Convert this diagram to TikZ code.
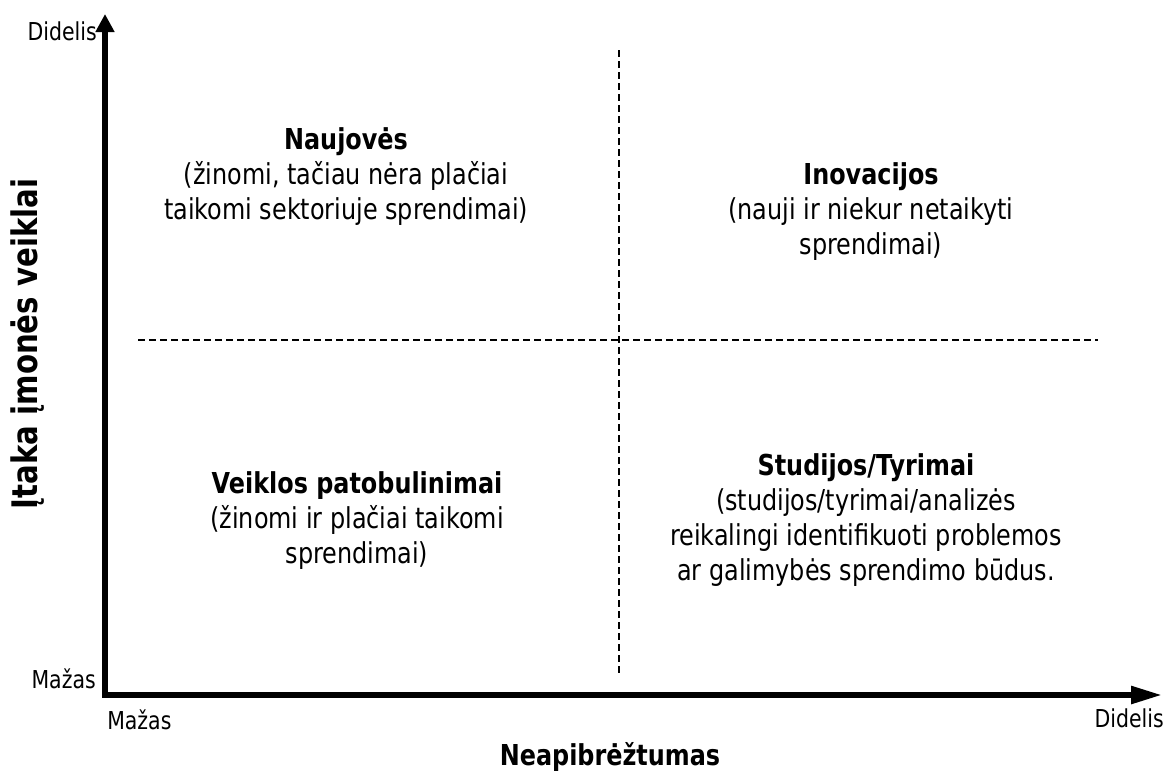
\documentclass[tikz,border=0pt]{standalone}
\usepackage{fontspec}
\setmainfont{DejaVu Sans}[FakeStretch=0.83]
\usetikzlibrary{arrows.meta}
\begin{document}
\begin{tikzpicture}[x=0.75pt,y=-0.75pt,
  axis/.style={line width=4.2pt,line join=miter},
  guide/.style={line width=1.7pt,dash pattern=on 5.25pt off 3pt},
  quad/.style={align=center,inner sep=0pt,font=\fontsize{21.6pt}{26.25pt}\selectfont},
  tick/.style={inner sep=0pt,font=\fontsize{18.5pt}{21pt}\selectfont},
  title/.style={inner sep=0pt,font=\fontsize{21.6pt}{25pt}\selectfont\bfseries}]
\useasboundingbox (0,0) rectangle (1167,771);
% axes
\coordinate (ytip) at (105,14);
\coordinate (origin) at (105,695);
\coordinate (xtip) at (1162,695);
\draw[axis,{Triangle[length=13.5pt,width=13.5pt]}-{Triangle[length=23.25pt,width=12.75pt]}]
  (ytip) -- (origin) -- (xtip);
% dashed guides
\coordinate (vtop) at (619,50);
\coordinate (vbot) at (619,676);
\coordinate (hleft) at (138,340);
\coordinate (hright) at (1098,340);
\draw[guide] (vtop) -- (vbot);
\draw[guide] (hleft) -- (hright);
% axis tick labels
\node[tick,anchor=east] (ydid) at (97,31) {Didelis};
\node[tick,anchor=east] (ymaz) at (96,679) {Mažas};
\node[tick,anchor=west] (xmaz) at (107,720) {Mažas};
\node[tick,anchor=east] (xdid) at (1164,718) {Didelis};
% axis titles
\node[title] (xtitle) at (610,757) {Neapibrėžtumas};
\node[title,rotate=90,font=\fontsize{26.4pt}{30pt}\selectfont\bfseries] (ytitle) at (28,344) {Įtaka įmonės veiklai};
% quadrants
\node[quad] (naujoves) at (346,177) {\textbf{Naujovės}\\(žinomi, tačiau nėra plačiai\\taikomi sektoriuje sprendimai)};
\node[quad] (inovacijos) at (871,212) {\textbf{Inovacijos}\\(nauji ir niekur netaikyti\\sprendimai)};
\node[quad] (veiklos) at (357,521) {\textbf{Veiklos patobulinimai}\\(žinomi ir plačiai taikomi\\sprendimai)};
\node[quad] (studijos) at (866,520) {\textbf{Studijos/Tyrimai}\\(studijos/tyrimai/analizės\\reikalingi identifikuoti problemos\\ar galimybės sprendimo būdus.};
\end{tikzpicture}
\end{document}
